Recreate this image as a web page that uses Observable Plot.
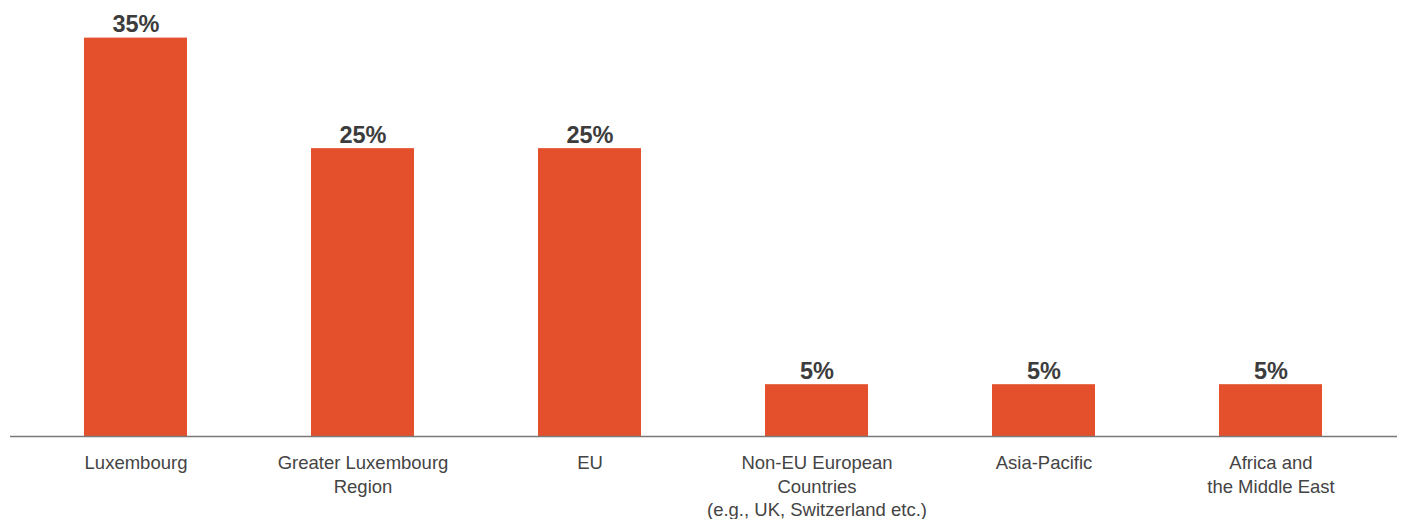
<!DOCTYPE html>
<html>
<head>
<meta charset="utf-8">
<script src="https://cdn.jsdelivr.net/npm/d3@7"></script>
<script src="https://cdn.jsdelivr.net/npm/@observablehq/plot@0.6"></script>
<style>
  html, body { margin: 0; padding: 0; background: #fff; }
  #chart svg { display: block; }
</style>
</head>
<body>
<div id="chart"></div>
<script>
const categories = [
  "Luxembourg",
  "Greater Luxembourg\nRegion",
  "EU",
  "Non-EU European\nCountries\n(e.g., UK, Switzerland etc.)",
  "Asia-Pacific",
  "Africa and\nthe Middle East"
];
const shares = [34.6, 25, 25, 4.5, 4.5, 4.5];
const shareLabels = ["35%", "25%", "25%", "5%", "5%", "5%"];

const data = categories.map((c, i) => ({category: c, share: shares[i], label: shareLabels[i]}));

const chart = Plot.plot({
  width: 1404,
  height: 519,
  marginTop: 33,
  marginBottom: 83,
  marginLeft: 10,
  marginRight: 7,
  style: {fontFamily: "'Liberation Sans', Arial, Helvetica, sans-serif", background: "#fff"},
  x: {domain: categories, paddingInner: 0.546, paddingOuter: 0.328, label: null},
  y: {domain: [0, 35], axis: null},
  marks: [
    Plot.barY(data, {x: "category", y: "share", fill: "#e3502b"}),
    Plot.ruleY([0], {stroke: "#7a7a7a", strokeWidth: 1.6}),
    Plot.text(data, {
      x: "category", y: "share", text: "label",
      lineAnchor: "bottom", dy: -6,
      fontSize: 23.5, fontWeight: "bold", fill: "#3c3c3c"
    }),
    Plot.axisX({
      tickSize: 0, tickPadding: 16, fontSize: 18.5, lineHeight: 1.27,
      fill: "#444", label: null
    })
  ]
});
document.getElementById("chart").appendChild(chart);
</script>
</body>
</html>
